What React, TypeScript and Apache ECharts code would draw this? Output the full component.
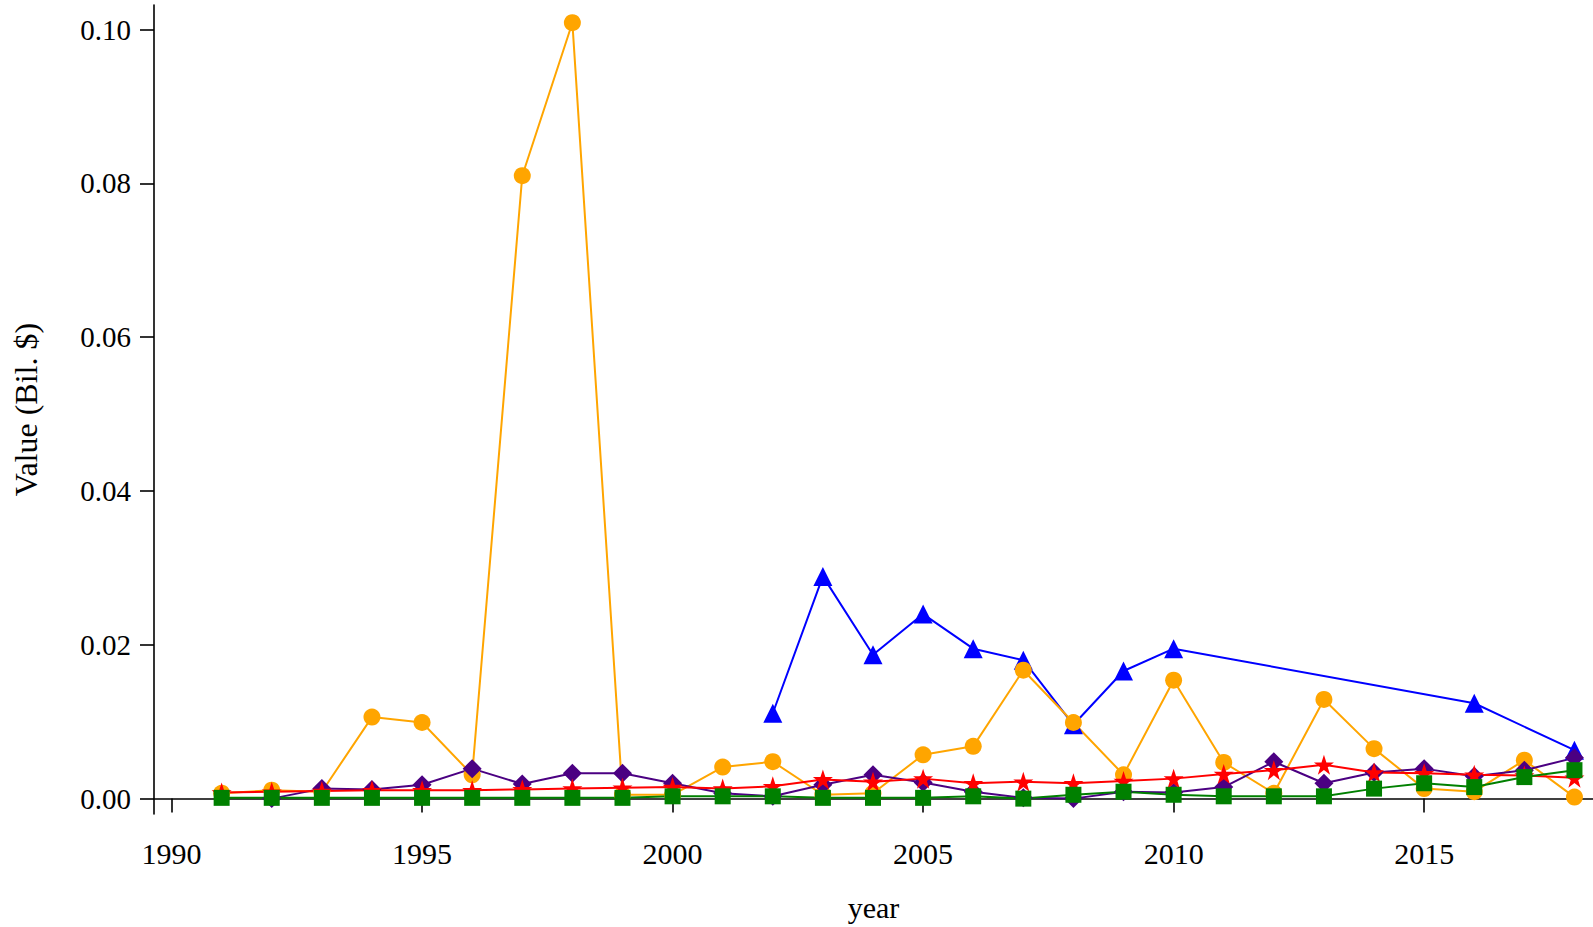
import React, { useEffect, useRef } from "react";
import * as echarts from "echarts";

const years = [1991, 1992, 1993, 1994, 1995, 1996, 1997, 1998, 1999, 2000, 2001, 2002, 2003, 2004, 2005, 2006, 2007, 2008, 2009, 2010, 2011, 2012, 2013, 2014, 2015, 2016, 2017, 2018];

const orangeValues = [0.0007, 0.0011, 0.0009, 0.0106, 0.0099, 0.0031, 0.081, 0.1009, 0.0005, 0.0005, 0.0041, 0.0048, 0.0005, 0.0007, 0.0057, 0.0068, 0.0167, 0.0099, 0.0031, 0.0154, 0.0047, 0.0007, 0.0129, 0.0065, 0.0013, 0.0009, 0.005, 0.0002];
const blueValues = [null, null, null, null, null, null, null, null, null, null, null, 0.0111, 0.0289, 0.0187, 0.024, 0.0195, 0.018, 0.0096, 0.0166, 0.0195, null, null, null, null, null, 0.0124, null, 0.0063];
const purpleValues = [null, 0.0, 0.0013, 0.0012, 0.0018, 0.0039, 0.0019, 0.0033, 0.0033, 0.002, 0.0007, 0.0003, 0.0018, 0.0031, 0.0021, 0.0009, 0.0001, 0.0, 0.0009, 0.0008, 0.0015, 0.0048, 0.002, 0.0034, 0.0039, 0.0029, 0.0037, 0.0053];
const redValues = [0.0008, 0.0009, 0.001, 0.0011, 0.0011, 0.0011, 0.0012, 0.0013, 0.0014, 0.0015, 0.0013, 0.0016, 0.0025, 0.0022, 0.0026, 0.002, 0.0022, 0.002, 0.0023, 0.0026, 0.0032, 0.0037, 0.0044, 0.0034, 0.0033, 0.0031, 0.003, 0.0027];
const greenValues = [0.0001, 0.0001, 0.0001, 0.0001, 0.0001, 0.0001, 0.0001, 0.0001, 0.0001, 0.0003, 0.0003, 0.0003, 0.0001, 0.0001, 0.0001, 0.0003, 0.0, 0.0005, 0.0009, 0.0005, 0.0003, 0.0003, 0.0003, 0.0013, 0.002, 0.0015, 0.0028, 0.0037];

const xTicks = [1990, 1995, 2000, 2005, 2010, 2015];
const yTicks = [0, 0.02, 0.04, 0.06, 0.08, 0.1];

const STAR = "path://M50,0 L61.8,35.1 L98.1,35.1 L68.2,56.8 L79.4,90.9 L50,69.1 L20.6,90.9 L31.8,56.8 L1.9,35.1 L38.2,35.1 Z";

const FONT = "'Liberation Serif', 'Times New Roman', serif";

function pairs(vals: (number | null)[]) {
  return years.map((y, i) => [y, vals[i] === null ? null : vals[i]]);
}

export default function App() {
  const ref = useRef<HTMLDivElement>(null);
  useEffect(() => {
    if (!ref.current) return;
    const chart = echarts.init(ref.current, undefined, { renderer: "svg" });
    const mk = (name: string, vals: (number | null)[], color: string, symbol: string, size: number) => ({
      name,
      type: "line",
      data: pairs(vals),
      connectNulls: true,
      symbol,
      symbolSize: size,
      showAllSymbol: true,
      lineStyle: { color, width: 2 },
      itemStyle: { color, borderWidth: 0 },
      z: 2,
    });
    chart.setOption({
      animation: false,
      backgroundColor: "#ffffff",
      grid: { left: 154, right: 0, top: 5, bottom: 113, containLabel: false },
      xAxis: {
        type: "value",
        min: 1989.65,
        max: 2018.37,
        name: "year",
        nameLocation: "middle",
        nameGap: 78,
        nameTextStyle: { fontFamily: FONT, fontSize: 30, color: "#000" },
        axisLine: { show: true, lineStyle: { color: "#000", width: 1.6 } },
        axisTick: { show: true, length: 14, customValues: xTicks, lineStyle: { color: "#000", width: 1.6 } },
        axisLabel: {
          customValues: xTicks,
          margin: 24,
          fontFamily: FONT,
          fontSize: 30,
          color: "#000",
          formatter: (v: number) => String(v),
        },
        splitLine: { show: false },
      },
      yAxis: {
        type: "value",
        min: -0.002,
        max: 0.1032,
        name: "Value (Bil. $)",
        nameLocation: "middle",
        nameRotate: 90,
        nameGap: 112,
        nameTextStyle: { fontFamily: FONT, fontSize: 32, color: "#000" },
        axisLine: { show: true, lineStyle: { color: "#000", width: 1.6 } },
        axisTick: { show: true, length: 14, customValues: yTicks, lineStyle: { color: "#000", width: 1.6 } },
        axisLabel: {
          customValues: yTicks,
          margin: 23,
          fontFamily: FONT,
          fontSize: 29,
          color: "#000",
          formatter: (v: number) => v.toFixed(2),
        },
        splitLine: { show: false },
      },
      series: [
        mk("blue", blueValues, "#0000FF", "triangle", 19),
        mk("orange", orangeValues, "#FFA500", "circle", 17),
        mk("purple", purpleValues, "#4B0082", "diamond", 19),
        mk("red", redValues, "#FF0000", STAR, 20),
        mk("green", greenValues, "#008000", "rect", 16),
      ],
    });
    return () => chart.dispose();
  }, []);
  return (
    <div
      ref={ref}
      style={{ position: "absolute", left: 0, top: 0, width: 1593, height: 927, background: "#fff" }}
    />
  );
}
